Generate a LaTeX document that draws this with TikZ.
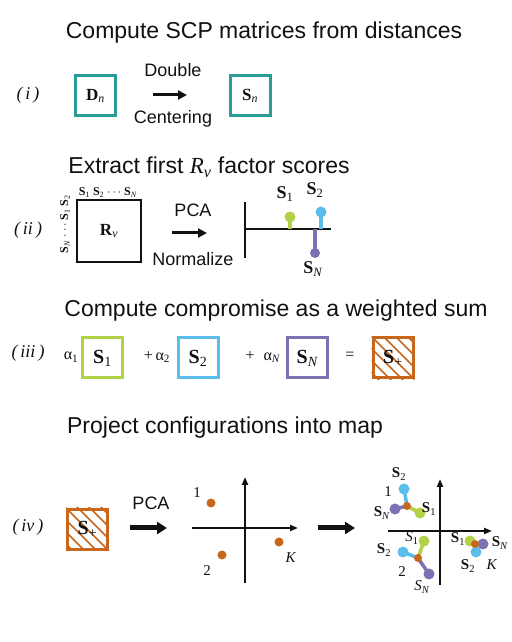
\documentclass[tikz,border=0pt]{standalone}
\usepackage{fontspec}
\setmainfont{Liberation Serif}
\newfontfamily\hvfont{Liberation Sans}
\usetikzlibrary{arrows.meta,calc}
\usepackage{xcolor}
\definecolor{scpInk}    {HTML}{111111}
\definecolor{scpTeal}   {HTML}{2A9D96}
\definecolor{scpGreen}  {HTML}{B3D145}
\definecolor{scpBlue}   {HTML}{5BBEEA}
\definecolor{scpPurple} {HTML}{7F70B4}
\definecolor{scpOrange} {HTML}{C8661C}
\newcommand{\bS}[1]{\textbf{S}\textsubscript{#1}}
\newcommand{\iS}[1]{\textit{S}\textsubscript{#1}}
\newcommand{\hatchbox}[1]{%
  \begin{scope}
    \clip (#1.south west) rectangle (#1.north east);
    \foreach \dx in {-48,-36,...,48}
      \draw[hatch] ($(#1.center)+(\dx-30,30)$) -- ++(60,-60);
  \end{scope}
  \node[sbox, draw=scpOrange, fill=none] at (#1.center) {};
}

\begin{document}
\begin{tikzpicture}[x=1pt, y=1pt,
  every node/.style ={text=scpInk},
  ttl/.style        ={font=\hvfont\fontsize{23}{27}\selectfont},
  txt/.style        ={font=\hvfont\fontsize{18}{21}\selectfont},
  stepl/.style      ={font=\itshape\fontsize{18}{21}\selectfont},
  sbox/.style       ={draw, line width=3pt, minimum size=40pt, inner sep=0pt},
  mbox/.style       ={draw=scpInk, line width=2pt, minimum width=64pt, minimum height=62pt, inner sep=0pt},
  blab/.style       ={font=\fontsize{18}{20}\selectfont},
  tlab/.style       ={font=\fontsize{12}{13}\selectfont, inner sep=0pt},
  plab/.style       ={font=\fontsize{15}{16}\selectfont, inner sep=0pt},
  wgt/.style        ={font=\fontsize{16}{18}\selectfont, inner sep=0pt},
  harr/.style       ={-{Triangle[length=9pt,width=9pt]}, line width=3pt, scpInk},
  farr/.style       ={-{Triangle[length=10pt,width=12pt]}, line width=5pt, scpInk},
  axis/.style       ={-{Triangle[length=8pt,width=6pt]}, line width=2pt, scpInk},
  stem/.style       ={line width=3.5pt},
  arm/.style        ={line width=3.5pt},
  hatch/.style      ={line width=1.6pt, scpOrange},
]
\useasboundingbox (0,0) rectangle (511,642);

% (i) double centering
\node[ttl] (t1) at (264,609) {Compute SCP matrices from distances};
\node[stepl] (s1) at (28,547) {(\,i\,)};
\node[sbox, draw=scpTeal] (dn) at (95.5,546) {\fontsize{17}{18}\selectfont\textbf{D}\textsubscript{\textit{n}}};
\node[sbox, draw=scpTeal] (sn) at (250,546) {\fontsize{17}{18}\selectfont\textbf{S}\textsubscript{\textit{n}}};
\coordinate (a1s) at (153,547);
\coordinate (a1e) at (187,547);
\draw[harr] (a1s) -- (a1e);
\node[txt] (dbl) at (173,572) {Double};
\node[txt] (ctr) at (173,523) {Centering};

% (ii) factor scores
\node[ttl] (t2) at (209,475) {Extract first {\rmfamily\itshape R\textsubscript{v}} factor scores};
\node[stepl] (s2) at (28,412) {(\,ii\,)};
\node[mbox] (rv) at (109,411) {\fontsize{17}{18}\selectfont\textbf{R}\textsubscript{\textit{v}}};
\node[tlab, anchor=south] (rvtop) at (108,444) {\bS{1} \bS{2} $\cdots$ \bS{\textit{N}}};
\node[tlab, rotate=90, anchor=south] (rvlft) at (70,418) {\bS{\textit{N}} $\cdots$ \bS{1} \bS{2}};
\node[txt] (pca1) at (193,432) {PCA};
\coordinate (a2s) at (172,409);
\coordinate (a2e) at (207,409);
\draw[harr] (a2s) -- (a2e);
\node[txt] (nrm) at (193,383) {Normalize};
\coordinate (vtop) at (245,440);
\coordinate (vbot) at (245,384);
\coordinate (hlft) at (245,413);
\coordinate (hrgt) at (331,413);
\draw[line width=2pt, scpInk] (vtop) -- (vbot);
\draw[line width=2pt, scpInk] (hlft) -- (hrgt);
\coordinate (g1b) at (290,413); \coordinate (g1h) at (290,425);
\coordinate (b1b) at (321,413); \coordinate (b1h) at (321,430);
\coordinate (p1b) at (315,413); \coordinate (p1h) at (315,389);
\draw[stem, scpGreen]  (g1b) -- (g1h);
\draw[stem, scpBlue]   (b1b) -- (b1h);
\draw[stem, scpPurple] (p1b) -- (p1h);
\fill[scpGreen]  (g1h) circle (5.5);
\fill[scpBlue]   (b1h) circle (5.5);
\fill[scpPurple] (p1h) circle (5);
\node[blab] (l1g) at (285,448) {\bS{1}};
\node[blab] (l1b) at (315,452) {\bS{2}};
\node[blab] (l1p) at (313,373) {\bS{\textit{N}}};

% (iii) weighted sum
\node[ttl] (t3) at (276,331) {Compute compromise as a weighted sum};
\node[stepl] (s3) at (28,289) {(\,iii\,)};
\node[wgt] (w1) at (71,285) {α\textsubscript{1}};
\node[sbox, draw=scpGreen] (q1) at (102.5,284) {\fontsize{20}{21}\selectfont\bS{1}};
\node[wgt] (w2) at (157,285) {+\,α\textsubscript{2}};
\node[sbox, draw=scpBlue] (q2) at (198,284) {\fontsize{20}{21}\selectfont\bS{2}};
\node[wgt] (w3) at (263,285) {+\;\;α\textsubscript{\textit{N}}};
\node[sbox, draw=scpPurple] (q3) at (307.5,284) {\fontsize{20}{21}\selectfont\bS{\textit{N}}};
\node[wgt] (eq) at (350,286) {=};
\node[sbox, draw=scpOrange] (sp1) at (393,284) {};
\hatchbox{sp1}
\node[font=\fontsize{20}{21}\selectfont] (sp1t) at (sp1.center) {\bS{+}};

% (iv) projection
\node[ttl] (t4) at (225,214) {Project configurations into map};
\node[stepl] (s4) at (28,115) {(\,iv\,)};
\node[sbox, draw=scpOrange] (sp2) at (87.5,112.5) {};
\hatchbox{sp2}
\node[font=\fontsize{20}{21}\selectfont] (sp2t) at (sp2.center) {\bS{+}};
\node[txt] (pca2) at (151,139) {PCA};
\coordinate (a3s) at (130,114);
\coordinate (a3e) at (167,114);
\draw[farr] (a3s) -- (a3e);

\coordinate (x1l) at (192,114); \coordinate (x1r) at (298,114);
\coordinate (y1b) at (245,59);  \coordinate (y1t) at (245,165);
\draw[axis] (x1l) -- (x1r);
\draw[axis] (y1b) -- (y1t);
\coordinate (o1) at (211,139);
\coordinate (o2) at (222,87);
\coordinate (oK) at (279,100);
\foreach \pt in {o1,o2,oK} \fill[scpOrange] (\pt) circle (4.5);
\node[plab] (n1) at (197,149) {1};
\node[plab] (n2) at (207,71) {2};
\node[plab] (nK) at (291,84) {\textit{K}};

\coordinate (a4s) at (318,114);
\coordinate (a4e) at (355,114);
\draw[farr] (a4s) -- (a4e);

\coordinate (x2l) at (388,111); \coordinate (x2r) at (492,111);
\coordinate (y2b) at (440,57);  \coordinate (y2t) at (440,163);
\draw[axis] (x2l) -- (x2r);
\draw[axis] (y2b) -- (y2t);

% configuration 1
\coordinate (c1o) at (407,136); \coordinate (c1b) at (404,153);
\coordinate (c1g) at (420,129); \coordinate (c1p) at (395,133);
% configuration 2
\coordinate (c2o) at (418,84);  \coordinate (c2b) at (403,90);
\coordinate (c2g) at (424,101); \coordinate (c2p) at (429,68);
% configuration K
\coordinate (c3o) at (475,98);  \coordinate (c3b) at (476,90);
\coordinate (c3g) at (470,101); \coordinate (c3p) at (483,98);
\foreach \c in {c1,c2,c3} {
  \draw[arm, scpBlue]   (\c o) -- (\c b);
  \draw[arm, scpGreen]  (\c o) -- (\c g);
  \draw[arm, scpPurple] (\c o) -- (\c p);
  \fill[scpBlue]   (\c b) circle (5.5);
  \fill[scpGreen]  (\c g) circle (5.5);
  \fill[scpPurple] (\c p) circle (5.5);
  \fill[scpOrange] (\c o) circle (4);
}
\node[plab] (k1b) at (399,168) {\bS{2}};
\node[plab] (k1n) at (388,150) {1};
\node[plab] (k1g) at (429,133) {\bS{1}};
\node[plab] (k1p) at (382,129) {\bS{\textit{N}}};
\node[plab] (k2b) at (384,92) {\bS{2}};
\node[plab] (k2g) at (412,104) {\iS{1}};
\node[plab] (k2n) at (402,70) {2};
\node[plab] (k2p) at (422,55) {\iS{\textit{N}}};
\node[plab] (k3g) at (458,103) {\bS{1}};
\node[plab] (k3p) at (500,99) {\bS{\textit{N}}};
\node[plab] (k3b) at (468,76) {\bS{2}};
\node[plab] (k3K) at (492,77) {\textit{K}};

\end{tikzpicture}
\end{document}
